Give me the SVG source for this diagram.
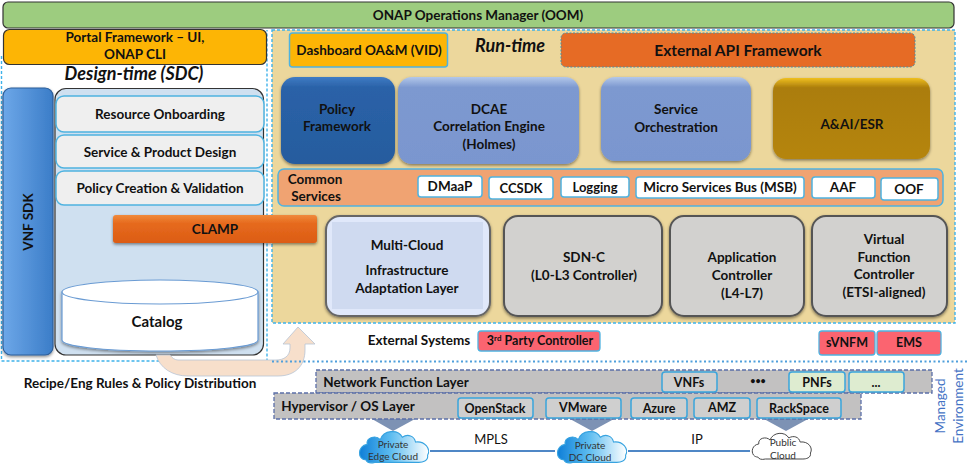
<svg xmlns="http://www.w3.org/2000/svg" xmlns:xlink="http://www.w3.org/1999/xlink" width="977" height="472" viewBox="0 0 977 472">
<style>
text{font-family:Lato,"Open Sans","Liberation Sans",sans-serif;font-weight:700;font-size:13.5px;fill:#111;text-anchor:middle}
.it{font-style:italic;font-size:18px}
.reg{font-weight:400}
.sm{font-size:10px;font-weight:400;fill:#333}
.t12{font-size:12.5px}
.blue{stroke:#4fb3e0;stroke-width:1.5}
.dash{fill:none;stroke:#3fb2ea;stroke-width:1.4;stroke-dasharray:3 2}
.gray{fill:#d2d1cf;stroke:#555;stroke-width:2;filter:url(#sh)}
.wh{fill:#fff;stroke:#4fb3e0;stroke-width:1.5}
.pan{fill:#efefef;stroke:#4fb3e0;stroke-width:1.5}
.red{fill:#fb6470;stroke:#4fb3e0;stroke-width:1.3}
.lay{fill:#c2c1c1;stroke:#5b6fa8;stroke-width:1.3;stroke-dasharray:4 2}
.tag{fill:#cfcfcf;stroke:#3aa5dc;stroke-width:1.5}
.grn{fill:#deecd0;stroke:#3aa5dc;stroke-width:1.5}
.tri{fill:#7d92b4}
.lnk{stroke:#4f87c6;stroke-width:2;fill:none}
</style>
<defs>
<filter id="sh" x="-10%" y="-10%" width="120%" height="125%"><feDropShadow dx="0" dy="1.5" stdDeviation="1.5" flood-color="#000" flood-opacity=".45"/></filter>
<linearGradient id="gPol" x1="0" y1="0" x2="0" y2="1"><stop offset="0" stop-color="#3f7cc4"/><stop offset=".12" stop-color="#2a62a8"/><stop offset="1" stop-color="#265c9e"/></linearGradient>
<linearGradient id="gBlue" x1="0" y1="0" x2="0" y2="1"><stop offset="0" stop-color="#b3c8ea"/><stop offset=".12" stop-color="#7d99d0"/><stop offset="1" stop-color="#7a96cf"/></linearGradient>
<linearGradient id="gGold" x1="0" y1="0" x2="0" y2="1"><stop offset="0" stop-color="#f0c020"/><stop offset=".12" stop-color="#ab7d0c"/><stop offset="1" stop-color="#b5850c"/></linearGradient>
<linearGradient id="gOr" x1="0" y1="0" x2="0" y2="1"><stop offset="0" stop-color="#f08a3c"/><stop offset=".3" stop-color="#e66a1e"/><stop offset="1" stop-color="#dc5c14"/></linearGradient>
<linearGradient id="gSdk" x1="0" y1="0" x2="1" y2="0"><stop offset="0" stop-color="#6da7e8"/><stop offset="1" stop-color="#3b7dc8"/></linearGradient>
<linearGradient id="gCl" x1="0" y1="0" x2="1" y2="0"><stop offset="0" stop-color="#0f7fd8"/><stop offset=".45" stop-color="#5cbcf0"/><stop offset="1" stop-color="#fff"/></linearGradient>
<path id="cloud" d="M-30 10C-38 10-38-2-29-3C-30-9-21-11-17-7C-14-15-1-16 3-9C8-12 14-10 15-5C24-6 29 1 26 6C27 11 21 12 18 12L-22 12C-26 13-29 12-30 10Z"/>
</defs>

<g id="design-time">
<path class="dash" d="M1.500 56V361H267V30"/>
<text class="it" x="134" y="80">Design-time (SDC)</text>
</g>
<g id="run-time">
<rect x="272" y="30" width="683" height="293" fill="#ecd79c"/>
<rect class="dash" x="272" y="30" width="683" height="293"/>
<text class="it" x="510" y="52">Run-time</text>
</g>

<g id="oom"><rect x="3" y="2" width="951" height="26" rx="5" fill="#9dcc7f" stroke="#333" stroke-width="1.2"/><text x="478" y="20">ONAP Operations Manager (OOM)</text></g>
<g id="portal"><rect x="3.500" y="29.500" width="263" height="35" rx="6" fill="#fdb505" stroke="#333" stroke-width="1.2"/><text x="135" y="42">Portal Framework – UI,</text><text x="135" y="59">ONAP CLI</text></g>
<g id="vnf-sdk"><rect x="3" y="88" width="50" height="267" rx="8" fill="url(#gSdk)" stroke="#2d5e99" stroke-width="1.200" filter="url(#sh)"/><text transform="translate(33 222) rotate(-90)">VNF SDK</text></g>
<g id="sdc-panel"><rect x="55" y="88.500" width="208.500" height="266.500" rx="11" fill="#cfe0f0" stroke="#333" stroke-width="1.200"/></g>
<g id="resource-onboarding"><rect class="pan" x="56" y="96" width="208" height="36" rx="8"/><text x="160" y="119">Resource Onboarding</text></g>
<g id="service-product"><rect class="pan" x="56" y="135" width="208" height="33" rx="8"/><text x="160" y="157">Service &amp; Product Design</text></g>
<g id="policy-creation"><rect class="pan" x="56" y="171" width="208" height="34" rx="8"/><text x="160" y="193">Policy Creation &amp; Validation</text></g>
<g id="catalog"><path d="M62 292V340C62 346 100 351 160 351S258 346 258 340V292Z" fill="#fff" stroke="#6a9bd3" stroke-width="1.200" filter="url(#sh)"/><ellipse cx="160" cy="292" rx="98" ry="12" fill="#fff" stroke="#6a9bd3" stroke-width="1.200"/><text x="157" y="327" style="font-size:15px">Catalog</text></g>

<g id="dashboard"><rect class="blue" x="289.500" y="33" width="158" height="34" rx="3" fill="#fdb505"/><text x="369" y="55">Dashboard OA&amp;M (VID)</text></g>
<g id="external-api"><rect x="561" y="33" width="354" height="34" rx="5" fill="#e66b25" stroke="#4a8fa8" stroke-width="1" stroke-dasharray="2 1.500"/><text x="738" y="56" style="font-size:15.500px">External API Framework</text></g>
<g id="policy"><rect x="281" y="77" width="114" height="87" rx="14" fill="url(#gPol)" filter="url(#sh)"/><text x="337" y="114">Policy</text><text x="337" y="131">Framework</text></g>
<g id="dcae"><rect x="398" y="77" width="181" height="87" rx="14" fill="url(#gBlue)" filter="url(#sh)"/><text x="489" y="114">DCAE</text><text x="489" y="131">Correlation Engine</text><text x="489" y="149">(Holmes)</text></g>
<g id="so"><rect x="601" y="77" width="150" height="84" rx="14" fill="url(#gBlue)" filter="url(#sh)"/><text x="676" y="114">Service</text><text x="676" y="132">Orchestration</text></g>
<g id="aai"><rect x="773" y="78" width="157" height="81" rx="13" fill="url(#gGold)" filter="url(#sh)"/><text x="852" y="129">A&amp;AI/ESR</text></g>
<g id="common-services"><rect class="blue" x="278" y="169" width="665" height="37" rx="6" fill="#f0a372"/><text x="315" y="184">Common</text><text x="316" y="201">Services</text></g>
<g id="dmaap"><rect class="wh" x="418" y="176" width="64" height="21" rx="3"/><text x="450" y="191">DMaaP</text></g>
<g id="ccsdk"><rect class="wh" x="489" y="177" width="64" height="22" rx="3"/><text x="521" y="193" style="font-size:13px">CCSDK</text></g>
<g id="logging"><rect class="wh" x="561" y="177" width="68" height="20" rx="3"/><text x="595" y="192" style="font-size:13px">Logging</text></g>
<g id="msb"><rect class="wh" x="636" y="177" width="168" height="21" rx="3"/><text x="720" y="192">Micro Services Bus (MSB)</text></g>
<g id="aaf"><rect class="wh" x="812" y="177" width="63" height="21" rx="3"/><text x="843" y="192">AAF</text></g>
<g id="oof"><rect class="wh" x="881" y="178" width="57" height="22" rx="3"/><text x="909" y="194">OOF</text></g>

<g id="multi-cloud"><rect x="326" y="216" width="164" height="100" rx="14" fill="#e0e8fa" stroke="#666" stroke-width="2" filter="url(#sh)"/><rect x="332" y="222" width="151" height="87" fill="#cfdaf0"/><text x="407" y="250">Multi-Cloud</text><text x="407" y="275">Infrastructure</text><text x="407" y="293">Adaptation Layer</text></g>
<g id="clamp"><rect x="113" y="215" width="204" height="28" rx="3" fill="url(#gOr)" filter="url(#sh)"/><text x="215" y="234">CLAMP</text></g>
<g id="sdnc"><rect class="gray" x="504" y="216" width="158" height="100" rx="14"/><text x="584" y="262">SDN-C</text><text x="584" y="280">(L0-L3 Controller)</text></g>
<g id="appc"><rect class="gray" x="670" y="216" width="134" height="100" rx="14"/><text x="742" y="262">Application</text><text x="742" y="280">Controller</text><text x="742" y="298">(L4-L7)</text></g>
<g id="vfc"><rect class="gray" x="812" y="216" width="135" height="100" rx="14"/><text x="884" y="244">Virtual</text><text x="884" y="262">Function</text><text x="884" y="279">Controller</text><text x="884" y="297">(ETSI-aligned)</text></g>

<g id="connectors">
<path id="distribution" d="M156 355C160 368 172 376 188 376H278C295 376 305 366 305 350V344H315L298 327L283 344H290V348C290 356 284 360 276 360H178C175 360 172 358 170 355Z" fill="#f7dfcb" stroke="#b8c4d4" stroke-width=".8"/>
<path class="lnk" d="M430 451H555M628 451H750"/>
<path class="tri" d="M372 419H415L393 431Z"/>
<path class="tri" d="M570 419H614L592 431Z"/>
<path class="tri" d="M764 419H808L786 431Z"/>
</g>
<text x="140" y="388">Recipe/Eng Rules &amp; Policy Distribution</text>

<g id="external-systems"><text x="419" y="345">External Systems</text></g>
<g id="third-party"><rect class="red" x="478" y="331" width="122" height="20" rx="3"/><text x="540" y="345" class="t12">3<tspan dy="-4" style="font-size:8px">rd</tspan><tspan dy="4"> Party Controller</tspan></text></g>
<g id="svnfm"><rect class="red" x="819" y="331" width="56" height="24" rx="3"/><text x="847" y="347" class="t12">sVNFM</text></g>
<g id="ems"><rect class="red" x="877" y="331" width="64" height="24" rx="3"/><text x="909" y="347" class="t12">EMS</text></g>
<path d="M272 361.500H967" fill="none" stroke="#4f9fdc" stroke-width="2" stroke-dasharray="2 2.500"/>

<g id="nf-layer"><rect class="lay" x="316" y="370" width="616" height="23"/><text x="396" y="387">Network Function Layer</text></g>
<g id="hv-layer"><rect class="lay" x="274" y="393" width="587" height="26"/><text x="348" y="411">Hypervisor / OS Layer</text></g>
<g id="vnfs"><rect class="tag" x="662" y="372" width="55" height="20" rx="3"/><text x="689" y="387" class="t12">VNFs</text></g>
<text x="758" y="384" style="font-size:9px">•••</text>
<g id="pnfs"><rect class="grn" x="789" y="372" width="56" height="20" rx="3"/><text x="817" y="387" class="t12">PNFs</text></g>
<g id="etc"><rect class="grn" x="849" y="372" width="55" height="20" rx="3"/><text x="876" y="387" class="t12">...</text></g>
<g id="openstack"><rect class="tag" x="458" y="398" width="75" height="20" rx="3"/><text x="495" y="413" class="t12">OpenStack</text></g>
<g id="vmware"><rect class="tag" x="546" y="398" width="75" height="20" rx="3"/><text x="583" y="412" class="t12">VMware</text></g>
<g id="azure"><rect class="tag" x="631" y="398" width="56" height="20" rx="3"/><text x="659" y="413" class="t12">Azure</text></g>
<g id="amz"><rect class="tag" x="694" y="398" width="56" height="20" rx="3"/><text x="722" y="412" class="t12">AMZ</text></g>
<g id="rackspace"><rect class="tag" x="757" y="398" width="84" height="20" rx="3"/><text x="799" y="413" class="t12">RackSpace</text></g>

<g id="edge-cloud"><use href="#cloud" transform="translate(399 448) scale(1.100 1.200)" fill="url(#gCl)" stroke="#37a3e0" stroke-width="1"/><text class="sm" x="393" y="448">Private</text><text class="sm" x="393" y="460">Edge Cloud</text></g>
<g id="dc-cloud"><use href="#cloud" transform="translate(597 448) scale(1.100 1.200)" fill="url(#gCl)" stroke="#37a3e0" stroke-width="1"/><text class="sm" x="590" y="449">Private</text><text class="sm" x="590" y="461">DC Cloud</text></g>
<g id="public-cloud"><use href="#cloud" transform="translate(786 447) scale(.94 1)" fill="#fff" stroke="#444" stroke-width="1"/><text class="sm" x="783" y="446">Public</text><text class="sm" x="783" y="459">Cloud</text></g>
<text class="reg" x="491" y="444" style="font-size:13px">MPLS</text>
<text class="reg" x="697" y="444" style="font-size:13px">IP</text>
<g id="managed"><text class="reg" transform="translate(945 406) rotate(-90)" style="fill:#4472c4">Managed</text><text class="reg" transform="translate(963 406) rotate(-90)" style="fill:#4472c4">Environment</text></g>
</svg>
